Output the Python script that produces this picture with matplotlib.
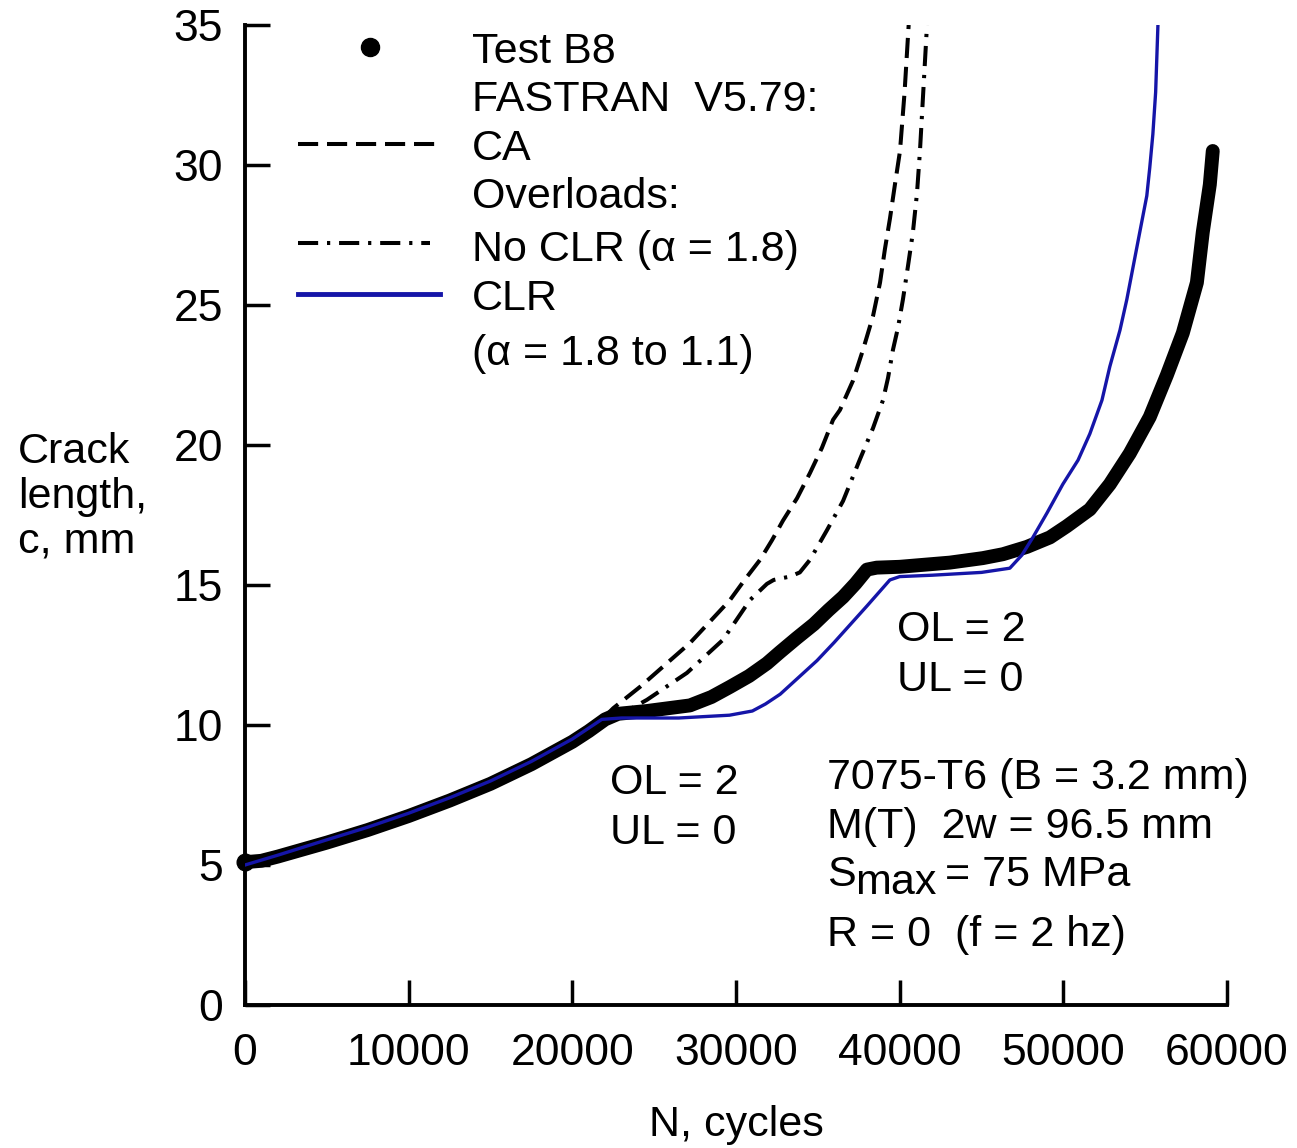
import matplotlib
matplotlib.use("Agg")
import matplotlib.pyplot as plt
from matplotlib.lines import Line2D

plt.rcParams["font.family"] = ["Liberation Sans", "DejaVu Sans"]

# Test B8 (measured crack length)
test_n = [0, 1000, 2000, 3500, 5000, 7500, 10000, 12500, 15000, 17500, 20000,
          21000, 22000, 22800, 24560, 27190, 28500, 29630, 30800, 31890, 32680,
          33700, 34760, 35650, 36540, 37300, 38000, 38600, 40000, 43070, 45080,
          46310, 47770, 49180, 50210, 51620, 52840, 54060, 55280, 56330, 57300,
          58160, 58520, 58950, 59130]
test_c = [5.1, 5.15, 5.3, 5.55, 5.8, 6.25, 6.75, 7.3, 7.9, 8.6, 9.4,
          9.78, 10.2, 10.4, 10.5, 10.7, 11.0, 11.36, 11.75, 12.2, 12.6,
          13.1, 13.6, 14.1, 14.57, 15.05, 15.55, 15.62, 15.65, 15.8, 15.96,
          16.1, 16.36, 16.7, 17.1, 17.7, 18.6, 19.7, 21.0, 22.5, 24.0,
          25.8, 27.6, 29.3, 30.5]

# FASTRAN, constant amplitude
ca_n = [21900, 22500, 24130, 27190, 29630, 30550, 31470, 32200, 32870, 33730,
        34520, 35250, 35930, 36350, 37150, 37760, 38370, 38800, 39100, 39410,
        39710, 40020, 40300, 40550]
ca_c = [10.25, 10.6, 11.36, 12.93, 14.46, 15.2, 15.9, 16.6, 17.3, 18.1,
        19.0, 19.9, 20.9, 21.25, 22.3, 23.4, 24.6, 25.8, 27.0, 28.1,
        29.3, 30.5, 32.6, 35.0]

# FASTRAN, overloads, no CLR
nclr_n = [21900, 23500, 24560, 25170, 27000, 29200, 30850, 31890, 32300, 32600,
          33300, 33900, 34520, 35560, 36540, 37580, 38370, 38980, 39290, 39590,
          39900, 40200, 40510, 40810, 41060, 41240, 41450, 41670]
nclr_c = [10.25, 10.55, 10.9, 11.14, 11.86, 13.04, 14.46, 15.04, 15.18, 15.22,
          15.3, 15.45, 15.9, 16.96, 18.0, 19.5, 20.6, 21.6, 22.4, 23.4,
          24.2, 25.2, 26.4, 27.6, 29.0, 30.5, 32.7, 35.0]

# FASTRAN, overloads, CLR
clr_n = [0, 2000, 5000, 7500, 10000, 12500, 15000, 17500, 20000, 21800, 23000,
         26500, 29600, 31000, 31800, 32700, 34950, 36000, 38000, 39400, 40000,
         42000, 45000, 46730, 47470, 48140, 49000, 49970, 50900, 51620, 52360,
         52840, 53460, 53880, 54670, 55100, 55280, 55470, 55640, 55780]
clr_c = [5.0, 5.35, 5.9, 6.35, 6.85, 7.4, 8.0, 8.7, 9.5, 10.2, 10.25,
         10.25, 10.35, 10.5, 10.75, 11.1, 12.3, 12.95, 14.25, 15.18, 15.3,
         15.35, 15.45, 15.6, 16.07, 16.7, 17.57, 18.6, 19.46, 20.4, 21.6,
         22.8, 24.1, 25.2, 27.6, 28.9, 29.9, 31.1, 32.6, 35.0]

x_ticks = [0, 10000, 20000, 30000, 40000, 50000, 60000]
y_ticks = [0, 5, 10, 15, 20, 25, 30, 35]

W, H = 1297, 1148
FS = 31
BLUE = "#1515a8"


def fx(px):
    return px / W


def fy(py):
    return 1 - py / H


fig = plt.figure(figsize=(W / 100, H / 100), dpi=100)
ax = fig.add_axes([fx(245), fy(1005), fx(1227) - fx(245), fy(25) - fy(1005)])

ax.plot(test_n, test_c, color="black", lw=10, solid_capstyle="round",
        solid_joinstyle="round", clip_on=False, zorder=2)
ax.plot(test_n[:1], test_c[:1], "o", color="black", ms=12, clip_on=False, zorder=2)
ax.plot(ca_n, ca_c, color="black", lw=2.9, dashes=(5, 2.2), zorder=3)
ax.plot(nclr_n, nclr_c, color="black", lw=2.9, dashes=(5, 2.2, 0.8, 2.2), zorder=3)
ax.plot(clr_n, clr_c, color=BLUE, lw=2.4, solid_joinstyle="round", zorder=4)

ax.set_xlim(0, 60000)
ax.set_ylim(0, 35)
ax.set_xticks(x_ticks)
ax.set_yticks(y_ticks)
ax.set_xticklabels([str(v) for v in x_ticks])
ax.set_yticklabels([str(v) for v in y_ticks])
for side in ("top", "right"):
    ax.spines[side].set_visible(False)
for side in ("left", "bottom"):
    ax.spines[side].set_linewidth(2.8)
ax.tick_params(direction="in", length=18, width=2.5, labelsize=32)
ax.tick_params(axis="y", pad=16)
ax.tick_params(axis="x", pad=20)

# axis labels
fig.text(fx(18), fy(497), "Crack\nlength,\nc, mm", fontsize=FS, ha="left",
         va="center", linespacing=1.16)
fig.text(fx(736), fy(1136), "N, cycles", fontsize=FS, ha="center", va="baseline")

# legend
fig.add_artist(Line2D([fx(370)], [fy(47)], marker="o", ms=13, color="black"))
fig.add_artist(Line2D([fx(298), fx(437)], [fy(144)] * 2, color="black",
                      lw=2.9, dashes=(5, 2.2)))
fig.add_artist(Line2D([fx(298), fx(430)], [fy(243)] * 2, color="black",
                      lw=2.9, dashes=(5, 2.2, 0.8, 2.2)))
fig.add_artist(Line2D([fx(298), fx(440)], [fy(294)] * 2, color=BLUE, lw=3.5))
legend_rows = [
    ("Test B8", 63),
    ("FASTRAN  V5.79:", 111),
    ("CA", 160),
    ("Overloads:", 208),
    ("No CLR (α = 1.8)", 261),
    ("CLR", 310),
    ("(α = 1.8 to 1.1)", 365),
]
for label, base in legend_rows:
    fig.text(fx(472), fy(base), label, fontsize=FS, ha="left", va="baseline")

# annotations
fig.text(fx(610), fy(794), "OL = 2", fontsize=FS, ha="left", va="baseline")
fig.text(fx(610), fy(844), "UL = 0", fontsize=FS, ha="left", va="baseline")
fig.text(fx(897), fy(641), "OL = 2", fontsize=FS, ha="left", va="baseline")
fig.text(fx(897), fy(691), "UL = 0", fontsize=FS, ha="left", va="baseline")

fig.text(fx(827), fy(789), "7075-T6 (B = 3.2 mm)", fontsize=FS, ha="left", va="baseline")
fig.text(fx(827), fy(838), "M(T)  2w = 96.5 mm", fontsize=FS, ha="left", va="baseline")
fig.text(fx(827), fy(886), "S", fontsize=FS, ha="left", va="baseline")
fig.text(fx(855), fy(894), "max", fontsize=FS, ha="left", va="baseline")
fig.text(fx(945), fy(886), "= 75 MPa", fontsize=FS, ha="left", va="baseline")
fig.text(fx(827), fy(946), "R = 0  (f = 2 hz)", fontsize=FS, ha="left", va="baseline")

fig.savefig("out.png", dpi=100)
